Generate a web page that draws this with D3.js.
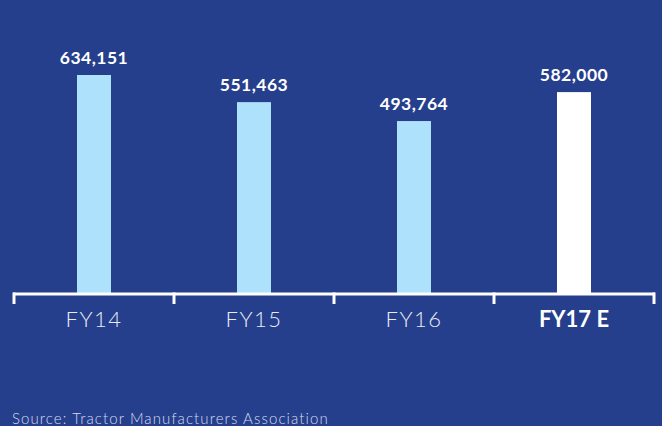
<!DOCTYPE html>
<html lang="en">
<head>
<meta charset="UTF-8">
<title>Tractor sales</title>
<style>
    body { margin: 0; background: #263f8d; }
    svg { display: block; }
    .value { font: 700 17.5px Lato, sans-serif; fill: #ffffff; text-anchor: middle; letter-spacing: 0.5px; }
    .axis-label { font: 300 22px Lato, sans-serif; fill: #e8ecf5; text-anchor: middle; letter-spacing: 1.5px; }
    .source { font: 300 15px Lato, sans-serif; fill: #d3daec; letter-spacing: 1.1px; }
</style>
</head>
<body>
<svg width="662" height="426" id="chart"></svg>
<script src="https://d3js.org/d3.v7.min.js"></script>
<script>
    // data
    const years = ['FY14', 'FY15', 'FY16', 'FY17 E'];
    const sales = [634151, 551463, 493764, 582000];
    const estimate = [false, false, false, true];

    const svg = d3.select('#chart');
    const baseY = 294;

    const x = d3.scaleBand().domain(years).range([14, 654]);
    // zero sits a little above the axis line in the original
    const y = d3.scaleLinear().domain([0, 634151]).range([283, 75]);
    const barW = 34;

    // bars
    svg.selectAll('.bar')
        .data(years)
        .enter().append('rect')
        .attr('class', 'bar')
        .attr('x', d => x(d) + x.bandwidth() / 2 - barW / 2)
        .attr('y', (d, i) => y(sales[i]))
        .attr('width', barW)
        .attr('height', (d, i) => baseY - y(sales[i]))
        .attr('fill', (d, i) => estimate[i] ? '#ffffff' : '#aee1fb');

    // value labels
    svg.selectAll('.value')
        .data(years)
        .enter().append('text')
        .attr('class', 'value')
        .attr('x', d => x(d) + x.bandwidth() / 2)
        .attr('y', (d, i) => y(sales[i]) - 11)
        .text((d, i) => d3.format(',')(sales[i]));

    // axis line with ticks
    const axis = svg.append('g').attr('transform', `translate(0,${baseY})`);
    axis.append('line')
        .attr('x1', 13).attr('x2', 655)
        .attr('stroke', '#ffffff').attr('stroke-width', 3);
    axis.selectAll('.tick')
        .data(years.map(d => x(d)).concat([x.range()[1]]))
        .enter().append('line')
        .attr('x1', d => d).attr('x2', d => d)
        .attr('y1', -1.5).attr('y2', 10)
        .attr('stroke', '#ffffff').attr('stroke-width', 3);

    svg.selectAll('.axis-label')
        .data(years)
        .enter().append('text')
        .attr('class', 'axis-label')
        .attr('x', d => x(d) + x.bandwidth() / 2)
        .attr('y', baseY + 33)
        .style('font-weight', (d, i) => estimate[i] ? 700 : 300)
        .style('letter-spacing', (d, i) => estimate[i] ? '0px' : null)
        .style('fill', (d, i) => estimate[i] ? '#ffffff' : null)
        .text(d => d);

    svg.append('text')
        .attr('class', 'source')
        .attr('x', 12).attr('y', 424)
        .text('Source: Tractor Manufacturers Association');
</script>
</body>
</html>
